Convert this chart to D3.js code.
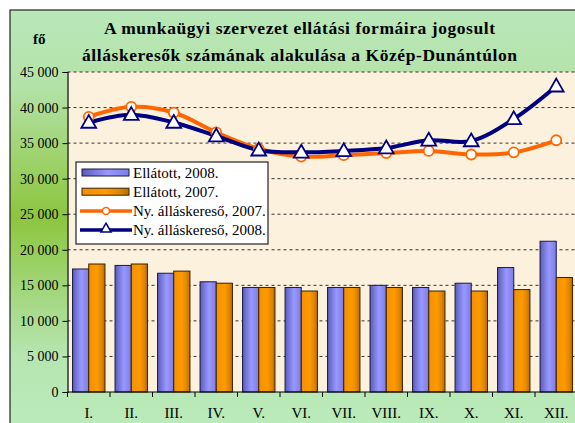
<!DOCTYPE html>
<html><head><meta charset="utf-8">
<script src="https://cdn.jsdelivr.net/npm/d3@7/dist/d3.min.js"></script>
<style>body{margin:0;background:#fff;}svg{display:block;}</style>
</head><body><svg id="c" width="575" height="423"></svg>
<script>
const categories = ["I.","II.","III.","IV.","V.","VI.","VII.","VIII.","IX.","X.","XI.","XII."];
const ellatott2008 = [17300,17800,16700,15500,14700,14700,14700,15000,14700,15300,17500,21200];
const ellatott2007 = [18000,18000,17000,15300,14700,14200,14700,14700,14200,14200,14400,16100];
const nyall2007 = [38700,40100,39300,36500,34200,33100,33300,33600,33900,33400,33700,35400];
const nyall2008 = [37900,39000,37900,36000,34000,33700,33900,34300,35400,35300,38400,43000];
const yTicks = [0,5000,10000,15000,20000,25000,30000,35000,40000,45000];
const titleLines = ["A munkaügyi szervezet ellátási formáira jogosult","álláskeresők számának alakulása a Közép-Dunántúlon"];
const legendItems = [
  {label:"Ellátott, 2008.", type:"bar", key:"b"},
  {label:"Ellátott, 2007.", type:"bar", key:"o"},
  {label:"Ny. álláskereső, 2007.", type:"line", key:"l7"},
  {label:"Ny. álláskereső, 2008.", type:"line", key:"l8"}
];

const SERIF = '"Liberation Serif","Times New Roman",serif';
const svg = d3.select("#c").style("font-family",SERIF);
const defs = svg.append("defs");
const bg = defs.append("linearGradient").attr("id","bgG").attr("x1",0).attr("y1",0).attr("x2",0).attr("y2",1);
bg.append("stop").attr("offset","0%").attr("stop-color","#b9e8b9");
bg.append("stop").attr("offset","18%").attr("stop-color","#b3e2a8");
bg.append("stop").attr("offset","48%").attr("stop-color","#8cc63e");
bg.append("stop").attr("offset","80%").attr("stop-color","#b5e5b0");
bg.append("stop").attr("offset","100%").attr("stop-color","#bcecbc");
const gb = defs.append("linearGradient").attr("id","blueG").attr("x1",0).attr("x2",1).attr("y1",0).attr("y2",0);
gb.append("stop").attr("offset","0%").attr("stop-color","#5a5ab4");
gb.append("stop").attr("offset","25%").attr("stop-color","#7878dc");
gb.append("stop").attr("offset","55%").attr("stop-color","#9898ff");
gb.append("stop").attr("offset","100%").attr("stop-color","#7c7ce8");
const go = defs.append("linearGradient").attr("id","orG").attr("x1",0).attr("x2",1).attr("y1",0).attr("y2",0);
go.append("stop").attr("offset","0%").attr("stop-color","#f29000");
go.append("stop").attr("offset","50%").attr("stop-color","#ff9a00");
go.append("stop").attr("offset","80%").attr("stop-color","#e08600");
go.append("stop").attr("offset","100%").attr("stop-color","#b86c00");

// outer chart area
svg.append("rect").attr("x",10).attr("y",10).attr("width",580).attr("height",430)
  .attr("fill","url(#bgG)").attr("stroke","#222").attr("stroke-width",1.2);

const m = {left:67.5, top:72, right:577.5, bottom:392};
const x = d3.scaleBand().domain(categories).range([m.left,m.right]).paddingInner(0).paddingOuter(0);
const y = d3.scaleLinear().domain([0,45000]).range([m.bottom,m.top]);

svg.append("rect").attr("x",m.left).attr("y",m.top).attr("width",m.right-m.left).attr("height",m.bottom-m.top)
  .attr("fill","#fcf1dc");

// gridlines
svg.append("g").selectAll("line").data(yTicks.filter(d=>d>0)).join("line")
  .attr("x1",m.left).attr("x2",m.right).attr("y1",d=>y(d)).attr("y2",d=>y(d))
  .attr("stroke","#333").attr("stroke-width",1).attr("stroke-dasharray","3,3");

// bars
const bw = 16.2;
const gBars = svg.append("g");
gBars.selectAll("rect.b").data(ellatott2008).join("rect")
  .attr("x",(d,i)=>x(categories[i])+x.bandwidth()/2-bw).attr("y",d=>y(d))
  .attr("width",bw).attr("height",d=>y(0)-y(d))
  .attr("fill","url(#blueG)").attr("stroke","#1a1a40").attr("stroke-width",1);
gBars.selectAll("rect.o").data(ellatott2007).join("rect")
  .attr("x",(d,i)=>x(categories[i])+x.bandwidth()/2).attr("y",d=>y(d))
  .attr("width",bw).attr("height",d=>y(0)-y(d))
  .attr("fill","url(#orG)").attr("stroke","#3a2000").attr("stroke-width",1);

// axes
const yAxis = d3.axisLeft(y).tickValues(yTicks).tickSize(5).tickFormat(d=>d3.format(",")(d).replace(/,/g," "));
const ga = svg.append("g").attr("transform",`translate(${m.left},0)`).call(yAxis)
  .attr("font-family",null).attr("font-size",null).style("font-family",SERIF);
ga.select(".domain").attr("stroke","#000").attr("stroke-width",1.2);
ga.selectAll(".tick line").attr("stroke","#000");
ga.selectAll(".tick text").attr("x",-9).style("font-size","14px").style("font-family",SERIF).attr("fill","#000");

const xAxis = d3.axisBottom(x).tickSize(0).tickPadding(0);
const gx = svg.append("g").attr("transform",`translate(0,${m.bottom})`).call(xAxis)
  .attr("font-family",null).attr("font-size",null).style("font-family",SERIF);
gx.select(".domain").remove();
svg.append("line").attr("x1",m.left).attr("x2",m.right).attr("y1",m.bottom).attr("y2",m.bottom).attr("stroke","#000").attr("stroke-width",1.2);
gx.selectAll(".tick text").attr("y",26).attr("dy","0").style("font-size","15px").style("font-family",SERIF).attr("fill","#000");
svg.append("g").selectAll("line").data(d3.range(categories.length+1)).join("line")
  .attr("x1",i=>m.left+i*x.bandwidth()).attr("x2",i=>m.left+i*x.bandwidth())
  .attr("y1",m.bottom).attr("y2",m.bottom+5).attr("stroke","#000");

// lines
const line = d3.line().x((d,i)=>x(categories[i])+x.bandwidth()/2).y(d=>y(d)).curve(d3.curveCatmullRom.alpha(0.5));
svg.append("path").datum(nyall2007).attr("d",line).attr("fill","none").attr("stroke","#ff6600").attr("stroke-width",4);
svg.append("path").datum(nyall2008).attr("d",line).attr("fill","none").attr("stroke","#000080").attr("stroke-width",4);
svg.append("g").selectAll("circle").data(nyall2007).join("circle")
  .attr("cx",(d,i)=>x(categories[i])+x.bandwidth()/2).attr("cy",d=>y(d)).attr("r",5)
  .attr("fill","#fff").attr("stroke","#ff6600").attr("stroke-width",1.8);
const tri = d3.symbol().type(d3.symbolTriangle).size(95);
svg.append("g").selectAll("path").data(nyall2008).join("path")
  .attr("transform",(d,i)=>`translate(${x(categories[i])+x.bandwidth()/2},${y(d)+1})`)
  .attr("d",tri).attr("fill","#fff").attr("stroke","#000080").attr("stroke-width",1.8);

// title
const titleW = [391,435];
svg.append("g").selectAll("text").data(titleLines).join("text")
  .attr("x",299.5).attr("y",(d,i)=>33.5+i*27).attr("text-anchor","middle")
  .style("font-size","17.5px").style("font-weight","bold").attr("fill","#000")
  .attr("textLength",(d,i)=>titleW[i]).attr("lengthAdjust","spacing").text(d=>d);
svg.append("text").attr("x",33).attr("y",44).style("font-size","15px").style("font-weight","bold").text("fő");

// legend
const lg = svg.append("g").attr("transform","translate(76,162)");
lg.append("rect").attr("width",192).attr("height",82).attr("fill","#fff").attr("stroke","#333").attr("stroke-width",1.3);
legendItems.forEach((it,i)=>{
  const cy = 10.5 + i*19.2;
  const g = lg.append("g").attr("transform",`translate(0,${cy})`);
  if(it.type==="bar"){
    g.append("rect").attr("x",6).attr("y",-3.5).attr("width",47).attr("height",7)
      .attr("fill",it.key==="b"?"url(#blueG)":"url(#orG)").attr("stroke",it.key==="b"?"#1a1a40":"#3a2000");
  } else {
    const col = it.key==="l7"?"#ff6600":"#000080";
    g.append("line").attr("x1",4).attr("x2",56).attr("y1",0).attr("y2",0).attr("stroke",col).attr("stroke-width",3.5);
    if(it.key==="l7") g.append("circle").attr("cx",30).attr("cy",0).attr("r",3.5).attr("fill","#fff").attr("stroke",col).attr("stroke-width",1.5);
    else g.append("path").attr("transform","translate(30,-1)").attr("d",d3.symbol().type(d3.symbolTriangle).size(45)).attr("fill","#fff").attr("stroke",col).attr("stroke-width",1.5);
  }
  g.append("text").attr("x",57).attr("y",5).style("font-size","15px").attr("fill","#000").text(it.label);
});
</script></body></html>
